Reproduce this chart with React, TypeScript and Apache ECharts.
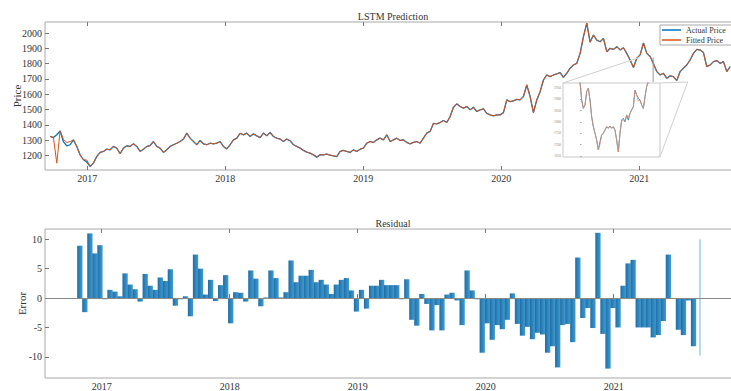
import React, { useEffect, useRef } from "react";
import * as echarts from "echarts";

// ---- axis ticks ----
const yearTicks = [2017, 2018, 2019, 2020, 2021];
const priceTicks = [1200, 1300, 1400, 1500, 1600, 1700, 1800, 1900, 2000];
const errorTicks = [-10, -5, 0, 5, 10];
const insetPriceTicks = [1650, 1700, 1750, 1800, 1850, 1900, 1950];

// ---- price samples (fractional year of first sample, spacing in years) ----
const priceStart = 2016.73;
const priceStep = 0.024155;
const actualPrice = [
  1324, 1317, 1335, 1360, 1290, 1263, 1270, 1302, 1259, 1204,
  1172, 1157, 1128, 1150, 1193, 1220, 1226, 1241, 1237, 1259,
  1248, 1211, 1248, 1263, 1259, 1276, 1259, 1226, 1241, 1259,
  1265, 1291, 1259, 1248, 1220, 1237, 1259, 1270, 1280, 1291,
  1307, 1346, 1313, 1291, 1270, 1298, 1276, 1270, 1280, 1276,
  1280, 1291, 1259, 1243, 1270, 1302, 1313, 1345, 1335, 1346,
  1324, 1341, 1328, 1317, 1346, 1328, 1350, 1324, 1313, 1307,
  1291, 1307, 1296, 1270, 1259, 1248, 1233, 1222, 1215, 1204,
  1189, 1204, 1204, 1209, 1202, 1198, 1193, 1226, 1233, 1226,
  1220, 1237, 1226, 1241, 1248, 1280, 1291, 1285, 1302, 1313,
  1302, 1335, 1291, 1302, 1313, 1298, 1302, 1285, 1276, 1285,
  1291, 1280, 1313, 1346, 1357, 1410, 1407, 1415, 1428, 1415,
  1454, 1515, 1537, 1520, 1509, 1520, 1498, 1515, 1487, 1498,
  1505, 1475, 1465, 1459, 1465, 1465, 1480, 1563, 1552, 1557,
  1567, 1563, 1585, 1661, 1585, 1480, 1563, 1617, 1693, 1726,
  1715, 1726, 1733, 1741, 1711, 1737, 1770, 1791, 1802, 1867,
  1976, 2065, 1940, 1987, 1954, 1943, 1965, 1878, 1900, 1893,
  1911, 1889, 1904, 1867, 1824, 1775, 1835, 1857, 1935, 1867,
  1846, 1800, 1748, 1726, 1737, 1704, 1720, 1715, 1689, 1748,
  1770, 1791, 1824, 1867, 1893, 1889, 1872, 1780, 1791, 1813,
  1820, 1802, 1813, 1748, 1780,
];
// samples where the fitted price departs from the actual price: [sample index, fitted value]
const fittedDepartures: [number, number][] = [
  [2, 1150], [4, 1305], [5, 1285], [6, 1290], [11, 1170],
];

// ---- residuals (fractional year of first bar, spacing in years) ----
const residualStart = 2016.829;
const residualStep = 0.0393;
const residuals = [
  8.9, -2.4, 11.0, 7.6, 9.0, -0.2, 1.4, 1.1, 0.3, 4.2,
  2.3, 1.5, -0.6, 4.1, 2.1, 1.4, 3.5, 2.9, 4.9, -1.3,
  -0.2, 0.3, -3.1, 7.4, 5.0, 0.6, 3.1, -0.5, 2.2, 3.9,
  -4.3, 1.0, 0.9, -0.6, 4.7, 3.3, -1.4, 0.1, 4.7, 3.4,
  0.1, 1.0, 6.4, 2.7, 3.8, 3.8, 4.8, 2.7, 3.1, 2.3,
  0.7, 2.3, 3.1, 3.4, 1.3, -2.3, 1.4, -1.8, 2.1, 2.1,
  3.1, 2.2, 2.2, 2.2, -0.2, 3.2, -3.7, -4.7, 0.7, -1.0,
  -5.5, -1.2, -5.5, 0.6, 0.9, -0.4, -4.6, 4.7, 1.3, -0.2,
  -9.3, -4.3, -7.1, -4.6, -5.3, -3.7, 0.8, -4.4, -6.4, -4.9,
  -7.0, -5.9, -6.2, -9.3, -8.2, -11.8, -4.6, -4.4, -7.5, 6.9,
  -3.4, -1.7, -5.1, 11.1, -6.1, -12.0, -1.7, -5.0, 2.1, 5.9,
  6.5, -5.0, -5.0, -5.0, -6.7, -6.3, -3.9, 7.4, 0, -5.4,
  -6.3, -0.4, -8.2,
];
// final sliver of the residual plot
const lastResidualYear = 2021.674;
const lastResidualSpan = [10.0, -9.8];

// ---- magnified detail (trading-day index, price) ----
const insetActual = [
  1976, 1897, 1860, 1875, 1934, 1949, 1897, 1823, 1779, 1750,
  1720, 1676, 1713, 1742, 1750, 1764, 1779, 1772, 1782, 1772,
  1779, 1764, 1720, 1668, 1750, 1808, 1816, 1801, 1831, 1808,
  1838, 1853, 1867, 1941, 1919, 1904, 1897, 1875, 1860, 1911,
  1956, 1978,
];
const insetFittedDepartures: [number, number][] = [
  [12, 1702], [26, 1806], [29, 1818], [35, 1892],
];
// region of the main chart that the detail magnifies
const zoomRegion = { start: 2021.0, end: 2021.1, low: 1680, high: 1840, reach: 2021.35 };

// ---- layout ----
const FONT = "Liberation Serif";
const TOP = { left: 45, top: 22, height: 148, right: 5 };
const BOTTOM = { left: 45, top: 229, height: 149, right: 5 };
const INSET = { left: 563, top: 83, width: 97, height: 74 };
const CHART_W = 745;
const TOP_MIN = 2016.693;
const TOP_MAX = TOP_MIN + (CHART_W - TOP.left - TOP.right) / 138;
const BOT_MIN = 2016.557;
const BOT_MAX = BOT_MIN + (CHART_W - BOTTOM.left - BOTTOM.right) / 128;

const BLUE = "#0072BD";
const ORANGE = "#D95319";
const AXIS_GRAY = "#a8a8a8";
const TEXT = "#333";

const plain = (v: number) => String(Math.round(v));

function yearAxis(gridIndex: number, min: number, max: number, position: "top" | "bottom") {
  const isBottom = position === "bottom";
  return {
    type: "value",
    gridIndex,
    position,
    min,
    max,
    axisLine: { show: false },
    splitLine: { show: false },
    axisTick: {
      show: true,
      inside: true,
      length: 4,
      customValues: yearTicks,
      lineStyle: { color: "#777" },
    },
    axisLabel: {
      show: isBottom,
      customValues: yearTicks,
      formatter: plain,
      margin: 3,
      fontSize: 10,
      fontFamily: FONT,
      color: TEXT,
    },
  };
}

export default function App() {
  const ref = useRef<HTMLDivElement>(null);

  useEffect(() => {
    if (!ref.current) return;
    const chart = echarts.init(ref.current, undefined, { renderer: "svg" });

    const fittedPrice = actualPrice.slice();
    fittedDepartures.forEach(([i, v]) => (fittedPrice[i] = v));
    const insetFitted = insetActual.slice();
    insetFittedDepartures.forEach(([i, v]) => (insetFitted[i] = v));

    const actualData = actualPrice.map((v, i) => [priceStart + i * priceStep, v]);
    const fittedData = fittedPrice.map((v, i) => [priceStart + i * priceStep, v]);
    const residualData = residuals.map((v, i) => [residualStart + i * residualStep, v]);
    const insetActualData = insetActual.map((v, i) => [i, v]);
    const insetFittedData = insetFitted.map((v, i) => [i, v]);

    const barFill = new echarts.graphic.LinearGradient(0, 0, 1, 0, [
      { offset: 0, color: "#1f6ea6" },
      { offset: 1, color: "#3f9cd2" },
    ]);

    chart.setOption({
      animation: false,
      backgroundColor: "#fff",
      textStyle: { fontFamily: FONT },
      grid: [
        {
          left: TOP.left, top: TOP.top, height: TOP.height, right: TOP.right,
          show: true, borderColor: AXIS_GRAY, borderWidth: 1, outerBoundsMode: "none",
        },
        {
          left: BOTTOM.left, top: BOTTOM.top, height: BOTTOM.height, right: BOTTOM.right,
          show: true, borderColor: AXIS_GRAY, borderWidth: 1, outerBoundsMode: "none",
        },
        {
          left: INSET.left, top: INSET.top, width: INSET.width, height: INSET.height,
          show: true, borderColor: "#c8c8c8", borderWidth: 1, backgroundColor: "#fff",
          z: 10, outerBoundsMode: "none",
        },
      ],
      legend: {
        data: ["Actual Price", "Fitted Price"],
        orient: "vertical",
        left: 660,
        top: 25,
        icon: "rect",
        itemWidth: 19,
        itemHeight: 1.5,
        itemGap: 0,
        padding: [0, 12, 0, 2],
        borderColor: AXIS_GRAY,
        borderWidth: 1,
        backgroundColor: "#fff",
        textStyle: { fontSize: 8, lineHeight: 10, color: TEXT, fontFamily: FONT },
      },
      xAxis: [
        yearAxis(0, TOP_MIN, TOP_MAX, "bottom"),
        yearAxis(0, TOP_MIN, TOP_MAX, "top"),
        yearAxis(1, BOT_MIN, BOT_MAX, "bottom"),
        yearAxis(1, BOT_MIN, BOT_MAX, "top"),
        { type: "value", gridIndex: 2, min: -10.2, max: 48, show: false },
      ],
      yAxis: [
        {
          type: "value",
          gridIndex: 0,
          min: 1105,
          max: 2072,
          name: "Price",
          nameLocation: "middle",
          nameGap: 23,
          nameMoveOverlap: false,
          nameTextStyle: { fontSize: 11, color: TEXT, fontFamily: FONT },
          axisLine: { show: false },
          splitLine: { show: false },
          axisTick: { show: true, inside: true, length: 4, customValues: priceTicks, lineStyle: { color: "#777" } },
          axisLabel: { customValues: priceTicks, formatter: plain, margin: 3, fontSize: 10, color: TEXT, fontFamily: FONT },
        },
        {
          type: "value",
          gridIndex: 1,
          min: -13.6,
          max: 11.75,
          name: "Error",
          nameLocation: "middle",
          nameGap: 18,
          nameMoveOverlap: false,
          nameTextStyle: { fontSize: 11, color: TEXT, fontFamily: FONT },
          axisLine: { show: false },
          splitLine: { show: false },
          axisTick: { show: true, inside: true, length: 4, customValues: errorTicks, lineStyle: { color: "#777" } },
          axisLabel: { customValues: errorTicks, formatter: plain, margin: 3, fontSize: 10, color: TEXT, fontFamily: FONT },
        },
        {
          type: "value",
          gridIndex: 2,
          min: 1645,
          max: 1972,
          z: 11,
          axisLine: { show: false },
          splitLine: { show: false },
          axisTick: { show: true, inside: true, length: 1.5, customValues: insetPriceTicks, lineStyle: { color: "#aaa" } },
          axisLabel: { customValues: insetPriceTicks, formatter: plain, margin: 2, fontSize: 3.5, color: "#888", fontFamily: FONT },
        },
      ],
      series: [
        {
          name: "Actual Price",
          type: "line",
          xAxisIndex: 0,
          yAxisIndex: 0,
          data: actualData,
          showSymbol: false,
          color: BLUE,
          lineStyle: { width: 1.3, color: BLUE },
          z: 2,
        },
        {
          name: "Fitted Price",
          type: "line",
          xAxisIndex: 0,
          yAxisIndex: 0,
          data: fittedData,
          showSymbol: false,
          color: ORANGE,
          lineStyle: { width: 1, color: ORANGE },
          z: 3,
        },
        {
          name: "Residual",
          type: "bar",
          xAxisIndex: 2,
          yAxisIndex: 1,
          data: residualData,
          barWidth: 5.3,
          itemStyle: { color: barFill },
          markLine: {
            silent: true,
            symbol: "none",
            label: { show: false },
            lineStyle: { color: "#8a8a8a", width: 1, type: "solid" },
            data: [{ yAxis: 0 }],
          },
          z: 2,
        },
        {
          name: "Residual tail",
          type: "line",
          xAxisIndex: 2,
          yAxisIndex: 1,
          data: lastResidualSpan.map((v) => [lastResidualYear, v]),
          showSymbol: false,
          lineStyle: { width: 1, color: "#6db4e0" },
          z: 3,
        },
        {
          name: "Actual Price detail",
          type: "line",
          xAxisIndex: 4,
          yAxisIndex: 2,
          data: insetActualData,
          showSymbol: false,
          lineStyle: { width: 1, color: "#3a8cc4" },
          z: 12,
        },
        {
          name: "Fitted Price detail",
          type: "line",
          xAxisIndex: 4,
          yAxisIndex: 2,
          data: insetFittedData,
          showSymbol: false,
          lineStyle: { width: 0.8, color: "#e0916a" },
          z: 13,
        },
      ],
    });

    const toPx = (x: number, y: number) =>
      chart.convertToPixel({ gridIndex: 0 }, [x, y]) as number[];
    const [rx0, yHigh] = toPx(zoomRegion.start, zoomRegion.high);
    const [rx1, yLow] = toPx(zoomRegion.end, zoomRegion.low);
    const [rxReach] = toPx(zoomRegion.reach, zoomRegion.low);
    const inL = INSET.left;
    const inT = INSET.top;
    const inR = INSET.left + INSET.width;
    const inB = INSET.top + INSET.height;
    const connector = { stroke: "#cfcfcf", lineWidth: 1 };

    chart.setOption({
      graphic: [
        {
          type: "text",
          x: 393,
          y: 16,
          style: { text: "LSTM Prediction", font: `10px ${FONT}`, fill: TEXT, align: "center", verticalAlign: "middle" },
        },
        {
          type: "text",
          x: 393,
          y: 223,
          style: { text: "Residual", font: `10px ${FONT}`, fill: TEXT, align: "center", verticalAlign: "middle" },
        },
        { type: "line", z: 20, shape: { x1: inL, y1: inT, x2: rx0, y2: yHigh }, style: connector },
        { type: "line", z: 20, shape: { x1: rx1, y1: yHigh, x2: rx1, y2: yLow }, style: { stroke: "#999", lineWidth: 1 } },
        { type: "line", z: 20, shape: { x1: inR, y1: inT, x2: rxReach, y2: yLow }, style: connector },
        { type: "line", z: 20, shape: { x1: rxReach, y1: yLow, x2: inR, y2: inB }, style: connector },
      ],
    });

    return () => chart.dispose();
  }, []);

  return (
    <div
      style={{
        position: "fixed",
        left: 0,
        top: 0,
        width: 731,
        height: 391,
        overflow: "hidden",
        background: "#fff",
      }}
    >
      <div ref={ref} style={{ width: CHART_W, height: 391 }} />
    </div>
  );
}
